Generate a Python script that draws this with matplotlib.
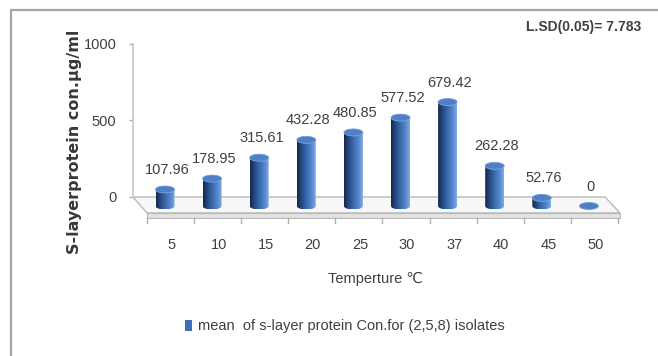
import matplotlib
matplotlib.use("Agg")
import matplotlib.pyplot as plt
import numpy as np
from matplotlib.path import Path
from matplotlib.patches import PathPatch, Ellipse, Polygon, Rectangle
from matplotlib.colors import LinearSegmentedColormap

# ---- data ----
temperatures = ["5", "10", "15", "20", "25", "30", "37", "40", "45", "50"]
protein_conc = [107.96, 178.95, 315.61, 432.28, 480.85, 577.52, 679.42, 262.28, 52.76, 0]
value_labels = ["107.96", "178.95", "315.61", "432.28", "480.85", "577.52", "679.42", "262.28", "52.76", "0"]
y_ticks = [0, 500, 1000]
y_ticklabels = ["0", "500", "1000"]
lsd_text = "L.SD(0.05)= 7.783"
x_title = "Temperture \u2103"
y_title = "S-layerprotein con.\u00b5g/ml"
legend_text = "mean  of s-layer protein Con.for (2,5,8) isolates"

plt.rcParams["font.family"] = ["Liberation Sans", "DejaVu Sans"]
TXT = "#404040"

W, H = 658, 356
fig = plt.figure(figsize=(W / 100, H / 100), dpi=100)
fig.patch.set_facecolor("white")

# pixel geometry of the plotting region
px_per_cat = 47.1
px_per_val = 0.153
bar0_px = 165.0
zero_row = 197.0
ax_l, ax_r, ax_t, ax_b = 110, 645, 30, 300
ax = fig.add_axes([ax_l / W, 1 - ax_b / H, (ax_r - ax_l) / W, (ax_b - ax_t) / H])
ax.patch.set_visible(False)

def dx(px):
    return px / px_per_cat

def dy(px):
    return px / px_per_val

# floor of the 3-D chart
back_l, back_r = dx(133 - bar0_px), dx(605 - bar0_px)
front_l, front_r = dx(147 - bar0_px), dx(620 - bar0_px)
front_top, front_bot = dy(-16), dy(-21)
floor = Polygon([(back_l, 0), (back_r, 0), (front_r, front_top), (front_l, front_top)],
                closed=True, facecolor="#f8f8f8", edgecolor="#b8b8b8", lw=1.0, zorder=1)
ax.add_patch(floor)
face = Polygon([(front_l, front_top), (front_r, front_top), (front_r, front_bot), (front_l, front_bot)],
               closed=True, facecolor="#e2e2e2", edgecolor="#b8b8b8", lw=0.8, zorder=1)
ax.add_patch(face)
for k in range(len(temperatures) + 1):
    xt = front_l + k
    ax.plot([xt, xt], [front_bot, front_bot - dy(5)], color="#b0b0b0", lw=1.0, zorder=1)

# y axis
ax.spines[["top", "right", "bottom"]].set_visible(False)
ax.spines["left"].set_position(("data", back_l))
ax.spines["left"].set_bounds(0, 1000)
ax.spines["left"].set_color("#c8c8c8")
ax.spines["left"].set_linewidth(1.2)
ax.set_yticks(y_ticks)
ax.set_yticklabels(y_ticklabels)
ax.tick_params(axis="y", length=3, width=1, color="#b0b0b0", pad=9,
               labelsize=10.5, labelcolor=TXT)
ax.set_xticks([])

# cylinder bars
cmap = LinearSegmentedColormap.from_list(
    "cyl", [(0.0, "#13284a"), (0.22, "#24477d"), (0.55, "#3f70b4"),
            (0.82, "#5b8dd2"), (1.0, "#86ade2")])
grad = cmap(np.linspace(0, 1, 64))[None, :, :]
bar_w = dx(19)
eh = dy(3.5)
base = dy(-9)
for i, v in enumerate(protein_conc):
    xc = float(i)
    top = base + v
    t1 = np.linspace(np.pi, 2 * np.pi, 40)
    t2 = np.linspace(0, np.pi, 40)
    pts = [(xc - bar_w / 2, top), (xc - bar_w / 2, base)]
    pts += list(zip(xc + bar_w / 2 * np.cos(t1), base + eh * np.sin(t1)))
    pts += [(xc + bar_w / 2, top)]
    pts += list(zip(xc + bar_w / 2 * np.cos(t2), top + eh * np.sin(t2)))
    pts.append(pts[0])
    path = Path(pts, closed=True)
    clip = PathPatch(path, transform=ax.transData, facecolor="none", edgecolor="none")
    ax.add_patch(clip)
    im = ax.imshow(grad, extent=[xc - bar_w / 2, xc + bar_w / 2, base - eh, top + eh],
                   aspect="auto", zorder=3, interpolation="bilinear")
    im.set_clip_path(clip)
    ax.add_patch(Ellipse((xc, top), bar_w, 2 * eh, facecolor="#4f80c6",
                         edgecolor="#7ea6dc", lw=0.6, zorder=4))
    ax.annotate(value_labels[i], xy=(xc, top + eh), xytext=(1.5, 11.5), textcoords="offset points",
                ha="center", va="center", fontsize=10.5, color=TXT, zorder=5)

# category labels along the front edge
for i, lab in enumerate(temperatures):
    ax.text(i + dx(6.5), dy(-48), lab, ha="center", va="center", fontsize=10.5, color=TXT)

ax.set_xlim((ax_l - bar0_px) / px_per_cat, (ax_r - bar0_px) / px_per_cat)
ax.set_ylim((zero_row - ax_b) / px_per_val, (zero_row - ax_t) / px_per_val)

# chart frame
frame = Rectangle((11 / W, -0.1), 2.0, 1 - 10 / H + 0.1, transform=fig.transFigure,
                  facecolor="none", edgecolor="#a6a6a6", lw=1.6)
fig.patches.append(frame)

# titles and notes
fig.text(375 / W, 1 - 279 / H, x_title, ha="center", va="center", fontsize=10.5, color=TXT)
fig.text(74 / W, 1 - 142 / H, y_title, rotation=90, ha="center", va="center",
         fontsize=11.5, fontweight="bold", color="#383838", family="DejaVu Sans")
fig.text(584 / W, 1 - 27 / H, lsd_text, ha="center", va="center", fontsize=10,
         fontweight="bold", color=TXT)

# legend
fig.patches.append(Rectangle((185 / W, 1 - 331 / H), 7 / W, 11 / H, transform=fig.transFigure,
                             facecolor="#3f70b4", edgecolor="none"))
fig.text(198 / W, 1 - 326 / H, legend_text, ha="left", va="center", fontsize=10.5, color=TXT)

fig.savefig("out.png", dpi=100)
